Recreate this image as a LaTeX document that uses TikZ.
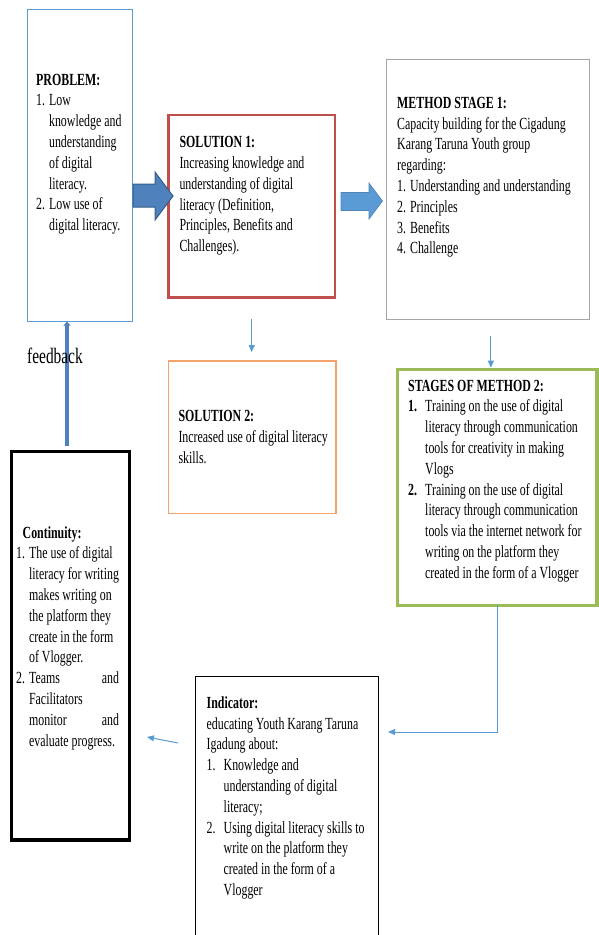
\documentclass[tikz,border=0pt]{standalone}
\usepackage{fontspec}
\setmainfont{Liberation Serif}[FakeStretch=0.70]
\usepackage{tikz}
\usetikzlibrary{arrows.meta}
\definecolor{probline}{HTML}{5B9BD5}
\definecolor{solred}{HTML}{C0504D}
\definecolor{methgray}{HTML}{A5A5A5}
\definecolor{solorange}{HTML}{F4A36B}
\definecolor{stagegreen}{HTML}{9BBB59}
\definecolor{flowblue}{HTML}{5B9BD5}
\definecolor{fbblue}{HTML}{4F81BD}
\definecolor{fbedge}{HTML}{385D8A}

\begin{document}
\begin{tikzpicture}[
  x=1pt, y=-1pt,
  panel/.style  = {draw, inner sep=0pt, outer sep=0pt},
  % anchored on the baseline of the last line
  boxtext/.style = {anchor=base west, inner sep=0pt, align=left,
                  font=\fontsize{17}{20.8}\selectfont},
  thinflow/.style = {-{Triangle[length=7pt,width=6pt]}, line width=1pt, draw=flowblue},
  fbflow/.style = {-{Triangle[length=4pt,width=7pt]}, line width=4pt, draw=fbblue},
  blockdark/.style = {fill=fbblue, draw=fbedge, line width=1pt},
  blocklight/.style = {fill=flowblue, draw=flowblue!85!black, line width=0.6pt},
]
\useasboundingbox (0,0) rectangle (598,935);

% boxes
\node[panel, draw=probline, line width=1pt, minimum width=105pt, minimum height=312pt] (problem) at (79.5,165.6) {};
\node[panel, draw=solred, line width=2.7pt, minimum width=166.7pt, minimum height=182.3pt] (sol1) at (251.7,206.2) {};
\node[panel, draw=methgray, line width=1pt, minimum width=202.3pt, minimum height=260pt] (method1) at (487.9,189.3) {};
\node[panel, draw=solorange, line width=1.3pt, minimum width=167.7pt, minimum height=152.3pt] (sol2) at (252.2,437.2) {};
\node[panel, draw=stagegreen, line width=3.2pt, minimum width=199.7pt, minimum height=236pt] (stages2) at (497.2,487.3) {};
\node[panel, draw=black, line width=3.3pt, minimum width=117.6pt, minimum height=388.3pt] (continuity) at (70.5,645.9) {};
\node[panel, draw=black, line width=1pt, minimum width=182.7pt, minimum height=274pt] (indicator) at (287.3,813) {};

% texts
\node[boxtext] (problem-txt) at (36,230.6) {\textbf{PROBLEM:}\\
  1. Low\\
  \hphantom{1. }knowledge and\\
  \hphantom{1. }understanding\\
  \hphantom{1. }of digital\\
  \hphantom{1. }literacy.\\
  2. Low use of\\
  \hphantom{2. }digital literacy.};
\node[boxtext] (sol1-txt) at (179.3,251.7) {\textbf{SOLUTION 1:}\\
  Increasing knowledge and\\
  understanding of digital\\
  literacy (Definition,\\
  Principles, Benefits and\\
  Challenges).};
\node[boxtext] (method1-txt) at (397,253.9) {\textbf{METHOD STAGE 1:}\\
  Capacity building for the Cigadung\\
  Karang Taruna Youth group\\
  regarding:\\
  1. Understanding and understanding\\
  2. Principles\\
  3. Benefits\\
  4. Challenge};
\node[boxtext] (sol2-txt) at (178.3,463.3) {\textbf{SOLUTION 2:}\\
  Increased use of digital literacy\\
  skills.};
\node[boxtext] (stages2-txt) at (408,578.2) {\textbf{STAGES OF METHOD 2:}\\
  \makebox[17pt][l]{\textbf{1.}}Training on the use of digital\\
  \hspace*{17pt}literacy through communication\\
  \hspace*{17pt}tools for creativity in making\\
  \hspace*{17pt}Vlogs\\
  \makebox[17pt][l]{\textbf{2.}}Training on the use of digital\\
  \hspace*{17pt}literacy through communication\\
  \hspace*{17pt}tools via the internet network for\\
  \hspace*{17pt}writing on the platform they\\
  \hspace*{17pt}created in the form of a Vlogger};
\node[boxtext] (continuity-txt) at (16,746) {\hspace*{6.5pt}\textbf{Continuity:}\\
  1. The use of digital\\
  \hphantom{1. }literacy for writing\\
  \hphantom{1. }makes writing on\\
  \hphantom{1. }the platform they\\
  \hphantom{1. }create in the form\\
  \hphantom{1. }of Vlogger.\\
  2. \makebox[90pt][s]{Teams\hfill and}\\
  \hphantom{2. }Facilitators\\
  \hphantom{2. }\makebox[90pt][s]{monitor\hfill and}\\
  \hphantom{2. }evaluate progress.};
\node[boxtext] (indicator-txt) at (206.5,895.5) {\textbf{Indicator:}\\
  educating Youth Karang Taruna\\
  Igadung about:\\
  \makebox[17pt][l]{1.}Knowledge and\\
  \hspace*{17pt}understanding of digital\\
  \hspace*{17pt}literacy;\\
  \makebox[17pt][l]{2.}Using digital literacy skills to\\
  \hspace*{17pt}write on the platform they\\
  \hspace*{17pt}created in the form of a\\
  \hspace*{17pt}Vlogger};

% block arrows
\draw[blockdark] (133,184) -- (155,184) -- (155,172) -- (173,196) -- (155,220) -- (155,207) -- (133,207) -- cycle;
\draw[blocklight] (341,192.5) -- (369,192.5) -- (369,183) -- (382.5,201) -- (369,219) -- (369,210.5) -- (341,210.5) -- cycle;

% thin connectors
\draw[thinflow, shorten <=22pt, shorten >=9pt] (sol1.south) -- (sol1.south |- sol2.north);
\draw[thinflow, shorten <=17pt, shorten >=1.6pt] ([xshift=3pt]method1.south) -- ([xshift=3pt]method1.south |- stages2.north);
\coordinate (ind-in) at (388,732);
\draw[thinflow] (stages2.south) |- (ind-in);
\coordinate (ind-out) at (178,743);
\coordinate (cont-in) at (147,737);
\draw[thinflow] (ind-out) -- (cont-in);

% feedback
\draw[fbflow] ([xshift=-3.5pt,yshift=6pt]continuity.north) -- ([xshift=-12.5pt]problem.south);
\node[anchor=base west, inner sep=0pt, font=\fontsize{22}{24}\selectfont] (fb-label) at (27,363) {feedback};

\end{tikzpicture}
\end{document}
